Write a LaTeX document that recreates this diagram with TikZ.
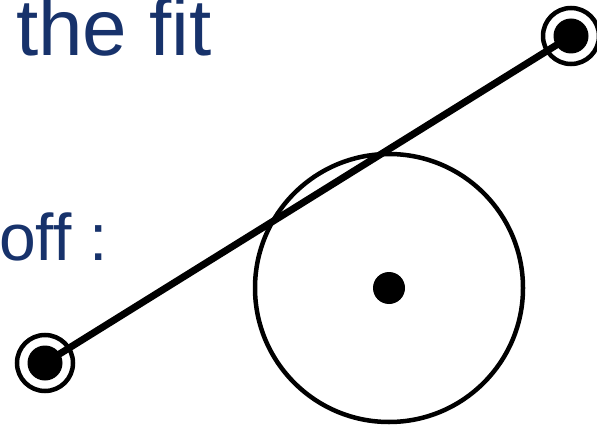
\documentclass[tikz,border=0pt]{standalone}
\usepackage{fontspec}
\setmainfont{Liberation Sans}
\definecolor{Fitblue}{HTML}{17326B}
\tikzset{
  fitlabel/.style={text=Fitblue,inner sep=0pt,anchor=base west},
  enddot/.style={circle,fill=black,inner sep=0pt,minimum size=35pt},
  endring/.style={circle,draw=black,line width=4.5pt,inner sep=0pt,minimum size=56pt}
}
\begin{document}
\begin{tikzpicture}[x=1pt,y=-1pt]
			\useasboundingbox (0,0) rectangle (597,425);
			\node[fitlabel,font=\fontsize{80}{80}\selectfont] (title) at (16,56) {the fit};
			\node[fitlabel,font=\fontsize{66}{66}\selectfont] (offlbl) at (-1,260) {off :};
			\node[circle,draw=black,line width=4.5pt,inner sep=0pt,minimum size=268pt] (fitcirc) at (389,288) {};
			\node[circle,fill=black,inner sep=0pt,minimum size=32pt] (ctr) at (fitcirc.center) {};
			\foreach \n/\x/\y in {pa/45/363,pb/571/36}{
					\node[endring] (\n ring) at (\x,\y) {};
					\node[enddot] (\n) at (\x,\y) {};}
			\draw[line width=7pt] (pa.center)--(pb.center);
		\end{tikzpicture}
\end{document}
